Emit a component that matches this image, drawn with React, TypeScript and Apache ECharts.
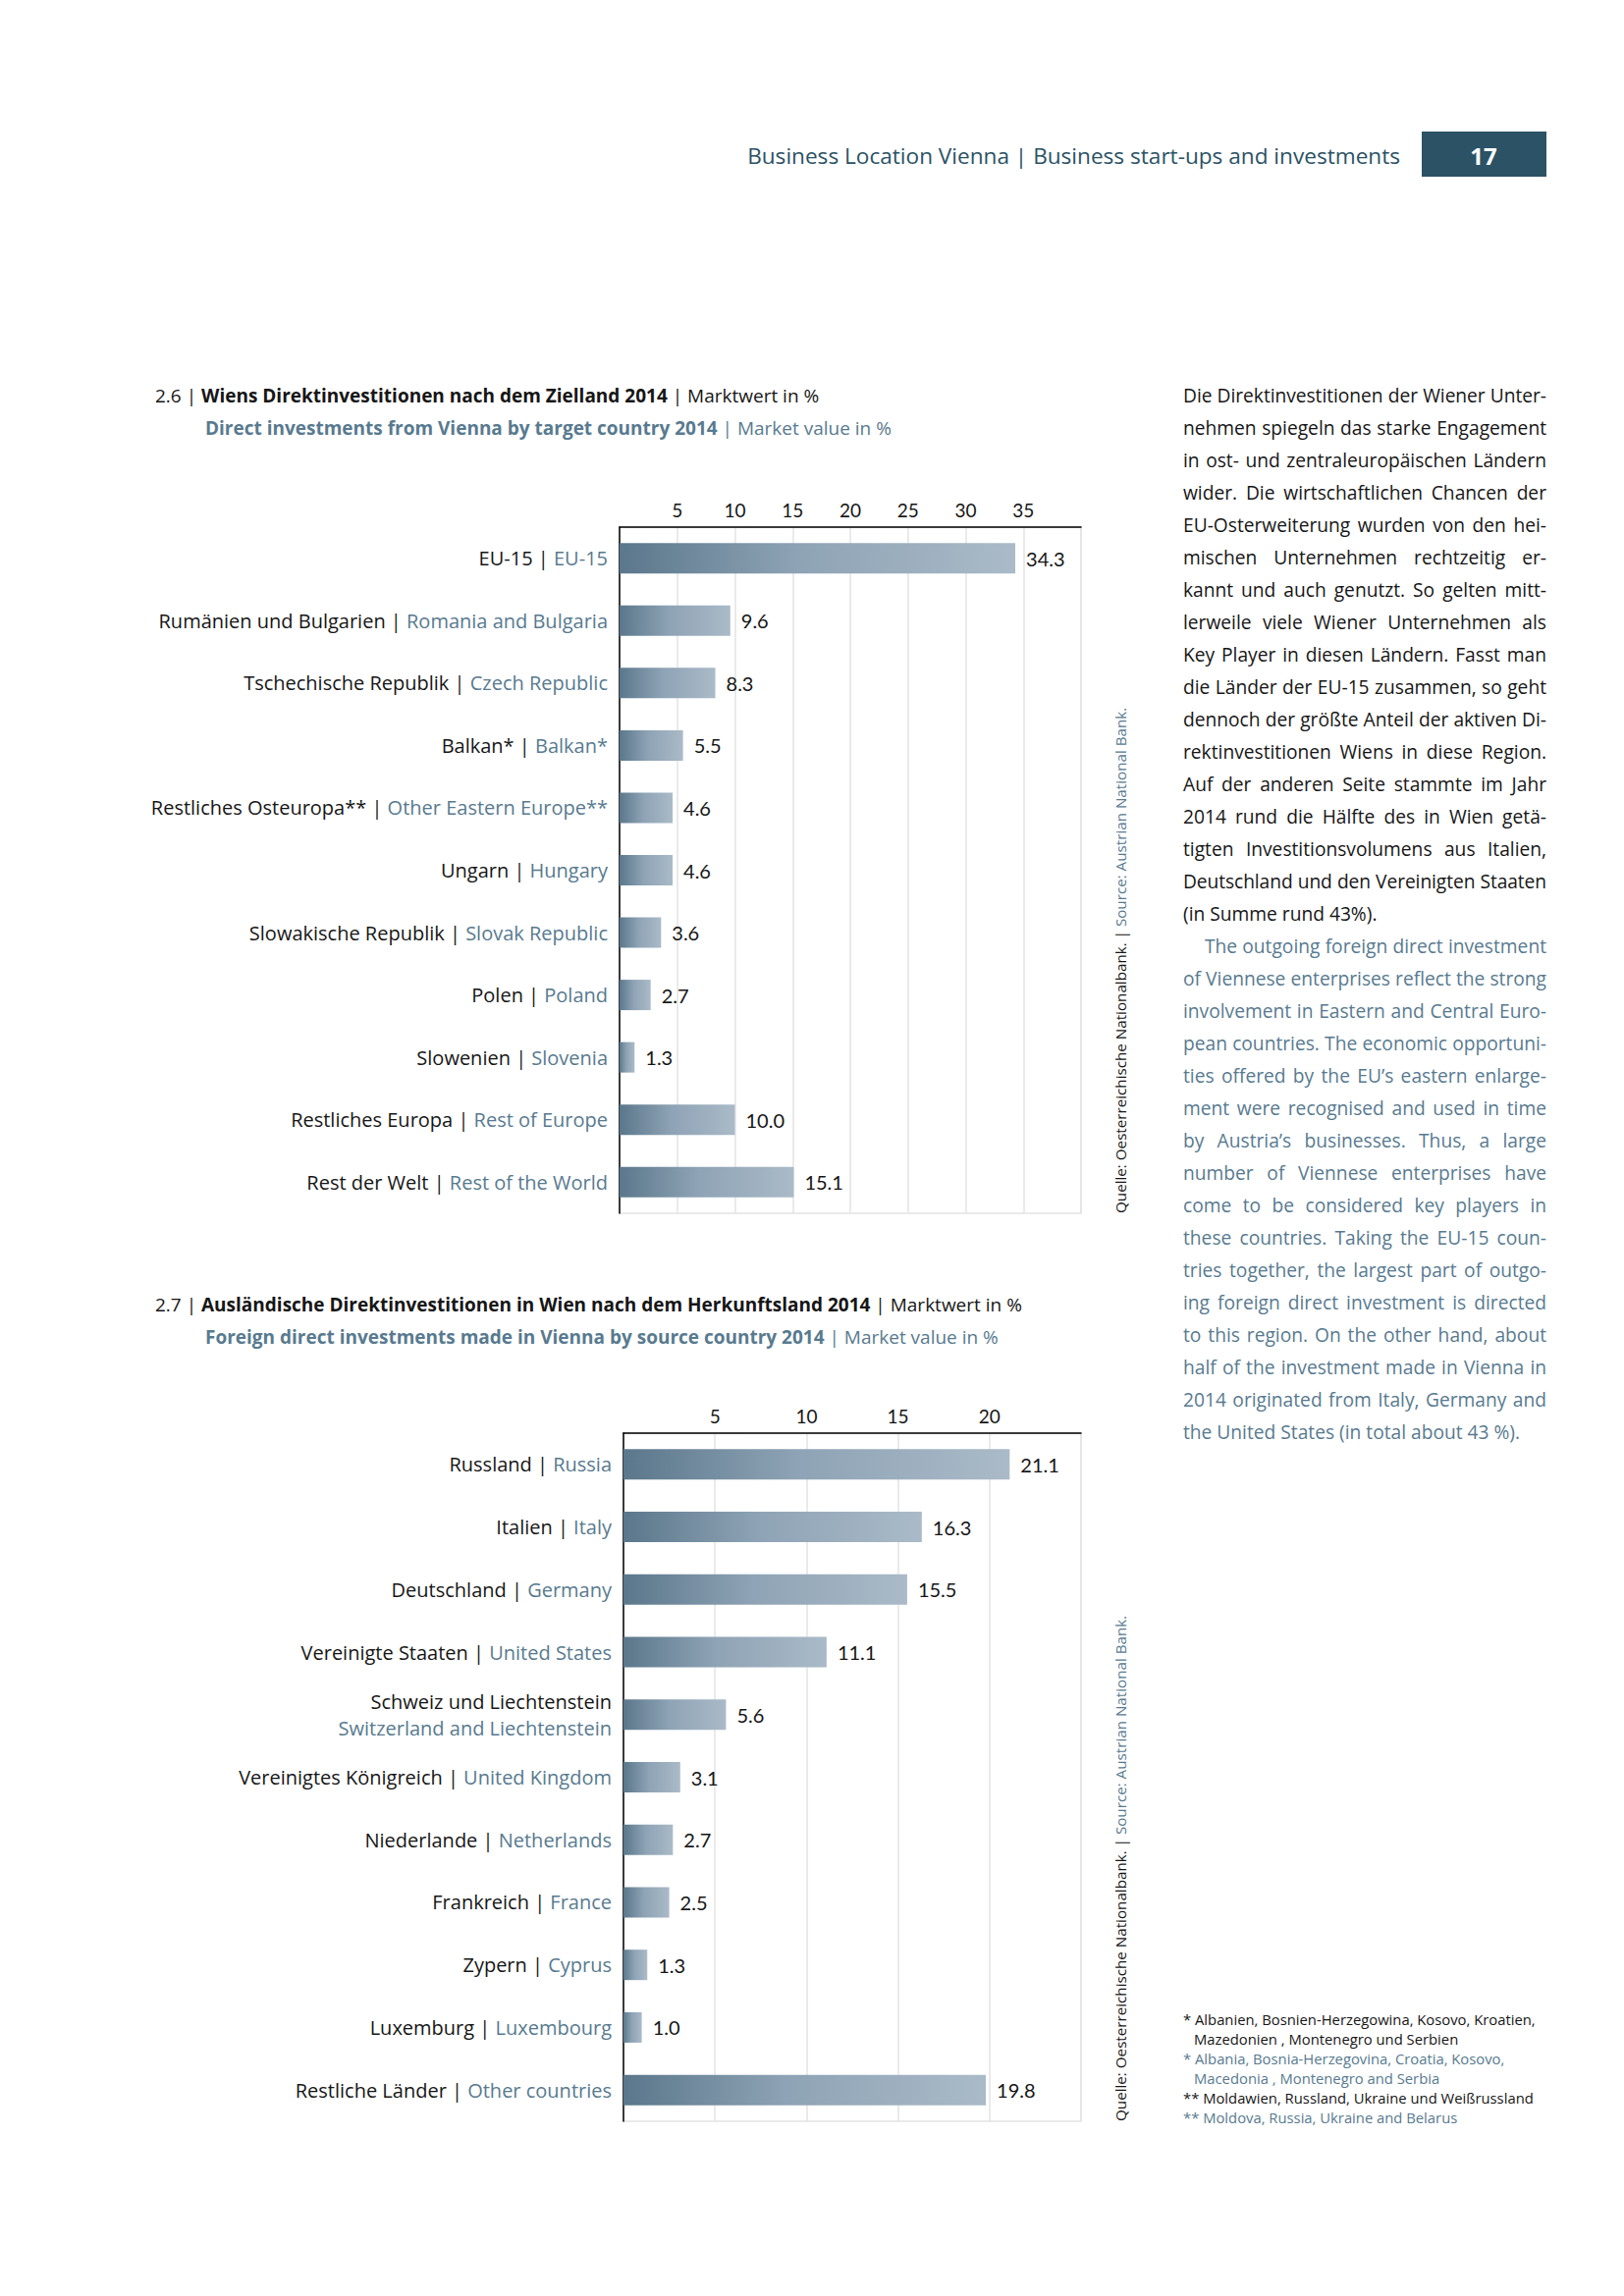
import React, { useEffect, useRef } from "react";
import * as echarts from "echarts";

// ---------- data ----------
const cats1De = ["EU-15", "Rumänien und Bulgarien", "Tschechische Republik", "Balkan*", "Restliches Osteuropa**", "Ungarn", "Slowakische Republik", "Polen", "Slowenien", "Restliches Europa", "Rest der Welt"];
const cats1En = ["EU-15", "Romania and Bulgaria", "Czech Republic", "Balkan*", "Other Eastern Europe**", "Hungary", "Slovak Republic", "Poland", "Slovenia", "Rest of Europe", "Rest of the World"];
const vals1 = [34.3, 9.6, 8.3, 5.5, 4.6, 4.6, 3.6, 2.7, 1.3, 10.0, 15.1];
const axis1Max = 40;

const cats2De = ["Russland", "Italien", "Deutschland", "Vereinigte Staaten", "Schweiz und Liechtenstein", "Vereinigtes Königreich", "Niederlande", "Frankreich", "Zypern", "Luxemburg", "Restliche Länder"];
const cats2En = ["Russia", "Italy", "Germany", "United States", "Switzerland and Liechtenstein", "United Kingdom", "Netherlands", "France", "Cyprus", "Luxembourg", "Other countries"];
const vals2 = [21.1, 16.3, 15.5, 11.1, 5.6, 3.1, 2.7, 2.5, 1.3, 1.0, 19.8];
const axis2Max = 25;
const stackedLabels = ["Schweiz und Liechtenstein"];

const title1De = ["2.6 | ", "Wiens Direktinvestitionen nach dem Zielland 2014", " | Marktwert in %"];
const title1En = ["Direct investments from Vienna by target country 2014", " | Market value in %"];
const title2De = ["2.7 | ", "Ausländische Direktinvestitionen in Wien nach dem Herkunftsland 2014", " | Marktwert in %"];
const title2En = ["Foreign direct investments made in Vienna by source country 2014", " | Market value in %"];

const headerText = "Business Location Vienna | Business start-ups and investments";
const pageNumber = "17";
const sourceDe = "Quelle: Oesterreichische Nationalbank. | ";
const sourceEn = "Source: Austrian National Bank.";

const footnotes = [
  { t: "* Albanien, Bosnien-Herzegowina, Kosovo, Kroatien,", en: false, indent: false },
  { t: "Mazedonien , Montenegro und Serbien", en: false, indent: true },
  { t: "* Albania, Bosnia-Herzegovina, Croatia, Kosovo,", en: true, indent: false },
  { t: "Macedonia , Montenegro and Serbia", en: true, indent: true },
  { t: "** Moldawien, Russland, Ukraine und Weißrussland", en: false, indent: false },
  { t: "** Moldova, Russia, Ukraine and Belarus", en: true, indent: false },
];

const paraDe = [
  "Die Direktinvestitionen der Wiener Unter-",
  "nehmen spiegeln das starke Engagement",
  "in ost- und zentraleuropäischen Ländern",
  "wider. Die wirtschaftlichen Chancen der",
  "EU-Osterweiterung wurden von den hei-",
  "mischen Unternehmen rechtzeitig er-",
  "kannt und auch genutzt. So gelten mitt-",
  "lerweile viele Wiener Unternehmen als",
  "Key Player in diesen Ländern. Fasst man",
  "die Länder der EU-15 zusammen, so geht",
  "dennoch der größte Anteil der aktiven Di-",
  "rektinvestitionen Wiens in diese Region.",
  "Auf der anderen Seite stammte im Jahr",
  "2014 rund die Hälfte des in Wien getä-",
  "tigten Investitionsvolumens aus Italien,",
  "Deutschland und den Vereinigten Staaten",
  "(in Summe rund 43%).",
];
const paraEn = [
  "The outgoing foreign direct investment",
  "of Viennese enterprises reflect the strong",
  "involvement in Eastern and Central Euro-",
  "pean countries. The economic opportuni-",
  "ties offered by the EU’s eastern enlarge-",
  "ment were recognised and used in time",
  "by Austria’s businesses. Thus, a large",
  "number of Viennese enterprises have",
  "come to be considered key players in",
  "these countries. Taking the EU-15 coun-",
  "tries together, the largest part of outgo-",
  "ing foreign direct investment is directed",
  "to this region. On the other hand, about",
  "half of the investment made in Vienna in",
  "2014 originated from Italy, Germany and",
  "the United States (in total about 43 %).",
];

// ---------- styles ----------
const FONT = "Open Sans";
const NUMFONT = "Lato";
const BLACK = "#161616";
const BLUE = "#587a8f";
const DARK = "#2b5265";
const GRID = "#e3e3e3";
const PARA_W = 370;

const barGradient = new echarts.graphic.LinearGradient(0, 0, 1, 0, [
  { offset: 0, color: "#5b778b" },
  { offset: 0.45, color: "#8ea3b5" },
  { offset: 1, color: "#aabac8" },
]);

const labelRich = {
  de: { color: BLACK, fontSize: 20, fontFamily: FONT, lineHeight: 27 },
  en: { color: BLUE, fontSize: 20, fontFamily: FONT, lineHeight: 27 },
};

function makeAxes(gi: number, cats: string[], en: string[], max: number) {
  const x = {
    gridIndex: gi,
    type: "value",
    position: "top",
    min: 0,
    max,
    interval: 5,
    axisLine: { show: true, lineStyle: { color: "#000", width: 1.5 } },
    axisTick: { show: false },
    splitLine: { show: true, lineStyle: { color: GRID, width: 1.5 } },
    axisLabel: {
      margin: 8,
      fontSize: 19,
      color: BLACK,
      fontFamily: NUMFONT,
      formatter: (v: number) => (v === 0 || v === max ? "" : String(v)),
    },
  };
  const y = {
    gridIndex: gi,
    type: "category",
    inverse: true,
    data: cats,
    axisLine: { show: true, lineStyle: { color: "#000", width: 1.5 } },
    axisTick: { show: false },
    splitLine: { show: false },
    axisLabel: {
      margin: 12,
      interval: 0,
      formatter: (v: string, i: number) =>
        stackedLabels.includes(v) ? `{de|${v}}\n{en|${en[i]}}` : `{de|${v} | }{en|${en[i]}}`,
      rich: labelRich,
    },
  };
  return { x, y };
}

function makeSeries(gi: number, vals: number[]) {
  return {
    type: "bar",
    xAxisIndex: gi,
    yAxisIndex: gi,
    data: vals,
    barWidth: 31,
    itemStyle: { color: barGradient },
    label: {
      show: true,
      position: "right",
      distance: 11,
      fontSize: 20,
      color: BLACK,
      fontFamily: NUMFONT,
      formatter: (p: any) => Number(p.value).toFixed(1),
    },
  };
}

function titleText(x: number, y: number, parts: string[], en: boolean) {
  const c = en ? BLUE : BLACK;
  const rich: any = {
    n: { fontSize: 19, fontFamily: FONT, fill: c },
    b: { fontSize: 19, fontFamily: FONT, fontWeight: "bold", fill: c },
  };
  let text = "";
  if (en) text = `{b|${parts[0]}}{n|${parts[1]}}`;
  else text = `{n|${parts[0]}}{b|${parts[1]}}{n|${parts[2]}}`;
  return { type: "text", x, y, style: { text, rich, align: "left", verticalAlign: "middle", fill: c } };
}

function sourceText(x: number, y: number) {
  return {
    type: "text",
    x,
    y,
    rotation: Math.PI / 2,
    style: {
      text: `{a|${sourceDe}}{b|${sourceEn}}`,
      align: "left",
      verticalAlign: "middle",
      rich: {
        a: { fontSize: 15.2, fontFamily: FONT, fill: BLACK },
        b: { fontSize: 15.2, fontFamily: FONT, fill: BLUE },
      },
    },
  };
}

export default function App() {
  const ref = useRef<HTMLDivElement>(null);
  const paraRef = useRef<HTMLDivElement>(null);

  useEffect(() => {
    if (!ref.current) return;
    const chart = echarts.init(ref.current, null, { renderer: "svg" });
    const a1 = makeAxes(0, cats1De, cats1En, axis1Max);
    const a2 = makeAxes(1, cats2De, cats2En, axis2Max);

    const graphics: any[] = [
      { type: "text", x: 1426, y: 158, style: { text: headerText, align: "right", verticalAlign: "middle", fontSize: 22.6, fontFamily: FONT, fill: DARK } },
      { type: "rect", shape: { x: 1448, y: 134, width: 127, height: 46 }, style: { fill: DARK } },
      { type: "text", x: 1511, y: 158, style: { text: pageNumber, align: "center", verticalAlign: "middle", fontSize: 24, fontWeight: "bold", fontFamily: FONT, fill: "#fff" } },
      titleText(158, 403, title1De, false),
      titleText(209, 436, title1En, true),
      titleText(158, 1329, title2De, false),
      titleText(209, 1362, title2En, true),
      sourceText(1141, 1236),
      sourceText(1141, 2161),
    ];
    footnotes.forEach((f, i) => {
      graphics.push({
        type: "text",
        x: f.indent ? 1216 : 1205,
        y: 2057 + i * 20,
        style: { text: f.t, align: "left", verticalAlign: "middle", fontSize: 14.8, fontFamily: FONT, fill: f.en ? BLUE : BLACK },
      });
    });

    chart.setOption({
      animation: false,
      textStyle: { fontFamily: FONT },
      grid: [
        { left: 631, top: 537, width: 470, height: 699, show: true, borderColor: GRID, borderWidth: 1.5, containLabel: false },
        { left: 635, top: 1460, width: 466, height: 701, show: true, borderColor: GRID, borderWidth: 1.5, containLabel: false },
      ],
      xAxis: [a1.x, a2.x],
      yAxis: [a1.y, a2.y],
      series: [makeSeries(0, vals1), makeSeries(1, vals2)],
      graphic: graphics,
    });

    // keep every justified line inside the column
    if (paraRef.current) {
      const lines = Array.from(paraRef.current.children) as HTMLElement[];
      lines.forEach((el) => {
        const inner = el.firstElementChild as HTMLElement | null;
        if (!inner) return;
        const pad = parseFloat(el.style.paddingLeft || "0");
        const w = inner.getBoundingClientRect().width + pad;
        if (w > PARA_W) {
          const n = (inner.textContent || "").length;
          el.style.letterSpacing = `${-(w - PARA_W + 1) / n}px`;
        }
      });
    }
    return () => chart.dispose();
  }, []);

  const lineStyle = (last: boolean, color: string, indent = 0): React.CSSProperties => ({
    height: 33,
    lineHeight: "33px",
    whiteSpace: "nowrap",
    textAlign: last ? "left" : "justify",
    textAlignLast: last ? "left" : "justify",
    color,
    paddingLeft: indent,
    overflow: "visible",
  });

  return (
    <div style={{ position: "absolute", left: 0, top: 0, width: 1654, height: 2339, background: "#fff", overflow: "hidden" }}>
      <div ref={ref} style={{ position: "absolute", left: 0, top: 0, width: 1654, height: 2339 }} />
      <div ref={paraRef} style={{ position: "absolute", left: 1205, top: 386, width: PARA_W, fontFamily: FONT, fontSize: 19.2 }}>
        {paraDe.map((l, i) => (
          <div key={"d" + i} style={lineStyle(i === paraDe.length - 1, BLACK)}><span>{l}</span></div>
        ))}
        {paraEn.map((l, i) => (
          <div key={"e" + i} style={lineStyle(i === paraEn.length - 1, BLUE, i === 0 ? 22 : 0)}><span>{l}</span></div>
        ))}
      </div>
    </div>
  );
}
